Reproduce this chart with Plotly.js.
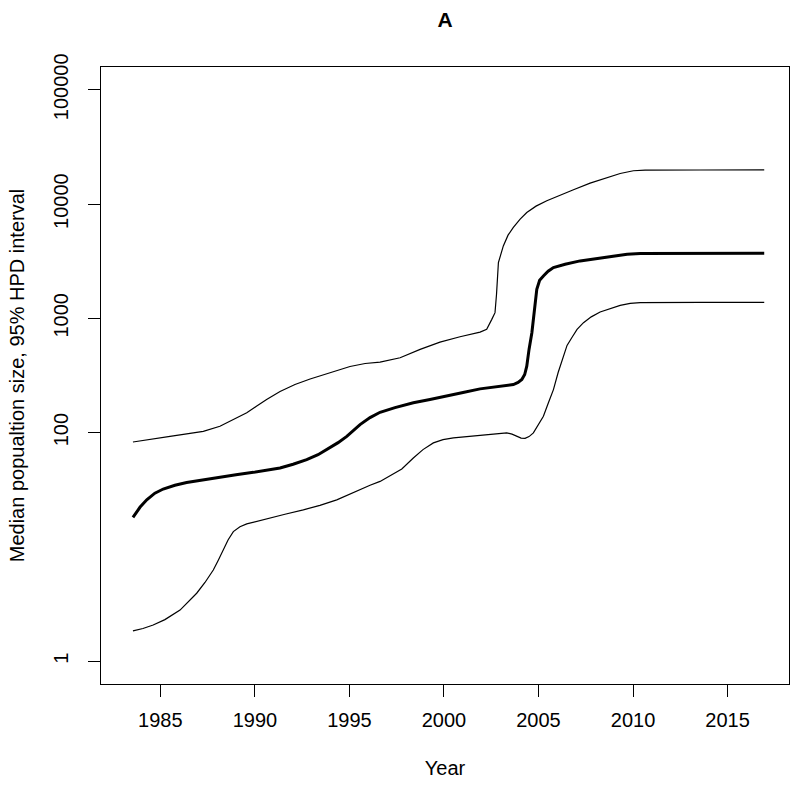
<!DOCTYPE html>
<html>
<head>
<meta charset="utf-8">
<script src="https://cdn.plot.ly/plotly-3.0.1.min.js"></script>
<style>
  html, body { margin: 0; padding: 0; background: #ffffff; }
  #chart { width: 800px; height: 786px; }
</style>
</head>
<body>
<div id="chart"></div>
<script>
// Values (year, population size)
const upperYears = [1983.55, 1984.45, 1985.51, 1986.57, 1987.27, 1988.15, 1988.84, 1989.57, 1990.06, 1990.62,
  1991.33, 1992.12, 1992.92, 1993.97, 1995.03, 1995.83, 1996.62, 1997.68, 1998.74, 1999.79,
  2000.85, 2001.91, 2002.26, 2002.53, 2002.70, 2002.78, 2002.88, 2003.14, 2003.39, 2003.67,
  2004.03, 2004.38, 2004.87, 2005.44, 2006.14, 2006.85, 2007.73, 2008.61, 2009.32, 2010.02,
  2010.64, 2013.55, 2016.94];
const upperValues = [82.8, 87.7, 92.8, 98.4, 102.6, 113.6, 130, 149, 169, 195,
  229, 264, 295, 336, 379, 403, 414, 452, 535, 620,
  691, 758, 801, 980, 1122, 1625, 3080, 4307, 5350, 6250,
  7380, 8450, 9600, 10690, 11990, 13340, 15280, 17140, 18530, 19590,
  19850, 19880, 19900];

const medianYears = [1983.55, 1983.92, 1984.28, 1984.71, 1985.15, 1985.77, 1986.39, 1987.10, 1988.15, 1989.00,
  1989.92, 1990.59, 1991.33, 1992.02, 1992.74, 1993.34, 1993.97, 1994.40, 1994.86, 1995.19,
  1995.56, 1996.09, 1996.62, 1997.41, 1998.38, 1999.26, 2000.15, 2001.01, 2001.91, 2002.81,
  2003.67, 2003.92, 2004.12, 2004.27, 2004.38, 2004.50, 2004.65, 2004.91, 2005.06, 2005.26,
  2005.51, 2005.79, 2006.41, 2007.20, 2008.10, 2008.96, 2009.69, 2010.38, 2013.55, 2016.94];
const medianValues = [18.1, 22.2, 25.8, 29.5, 32.1, 34.6, 36.6, 38.3, 40.9, 42.8,
  44.9, 46.9, 49.0, 52.9, 58.0, 64.1, 73.4, 81.7, 92.8, 104.2,
  117.5, 135.5, 150.7, 165.7, 182.4, 194.6, 208, 224.4, 241.6, 253.4,
  263.7, 274.6, 291.5, 322.7, 381.6, 535, 749, 1796, 2154, 2350,
  2585, 2785, 2978, 3184, 3358, 3518, 3641, 3696, 3718, 3718];

const lowerYears = [1983.55, 1984.08, 1984.62, 1985.24, 1986.04, 1986.46, 1986.92, 1987.36, 1987.80, 1988.07,
  1988.33, 1988.58, 1988.86, 1989.21, 1989.57, 1990.16, 1990.80, 1991.59, 1992.56, 1993.44,
  1994.33, 1994.93, 1995.56, 1996.09, 1996.62, 1997.15, 1997.77, 1998.38, 1998.89, 1999.44,
  1999.95, 2000.50, 2001.17, 2001.91, 2002.60, 2003.32, 2003.60, 2003.85, 2004.08, 2004.29,
  2004.50, 2004.73, 2004.98, 2005.26, 2005.51, 2005.79, 2006.04, 2006.32, 2006.51, 2006.76,
  2007.04, 2007.38, 2007.79, 2008.26, 2008.79, 2009.32, 2009.85, 2010.38, 2013.55, 2016.94];
const lowerValues = [1.84, 1.93, 2.07, 2.31, 2.80, 3.26, 3.93, 4.88, 6.28, 7.69,
  9.41, 11.5, 13.6, 15.0, 15.9, 16.9, 17.9, 19.3, 21.1, 23.1,
  25.8, 28.6, 32.1, 34.6, 37.4, 42.0, 48.0, 60.0, 71.0, 81.3,
  86.8, 89.9, 92.3, 94.1, 97.0, 99.4, 97.0, 92.8, 89.5, 89.1,
  92.3, 99.4, 115, 139, 180, 238, 336, 467, 580, 677,
  801, 917, 1031, 1136, 1224, 1301, 1355, 1374, 1381, 1381];

const xTicks = [1985, 1990, 1995, 2000, 2005, 2010, 2015];
const yTicks = [1, 100, 1000, 10000, 100000];
const yTickLabels = ['1', '100', '1000', '10000', '100000'];

const FONT = { family: 'Liberation Sans, Arial, Helvetica, sans-serif', color: '#000000', size: 20 };

const traces = [
  { x: upperYears, y: upperValues, mode: 'lines', name: 'upper 95% HPD',
    line: { color: '#000000', width: 1.2 } },
  { x: medianYears, y: medianValues, mode: 'lines', name: 'median',
    line: { color: '#000000', width: 3 } },
  { x: lowerYears, y: lowerValues, mode: 'lines', name: 'lower 95% HPD',
    line: { color: '#000000', width: 1.2 } },
];

const axisCommon = {
  showgrid: false, zeroline: false,
  showline: true, mirror: true, linecolor: '#000000', linewidth: 1,
  ticks: 'outside', ticklen: 12, tickwidth: 1, tickcolor: '#000000',
  tickfont: FONT, automargin: false,
};

const layout = {
  width: 800, height: 786,
  paper_bgcolor: '#ffffff', plot_bgcolor: '#ffffff',
  font: FONT,
  showlegend: false,
  margin: { t: 67, r: 11, b: 102, l: 101 },
  title: { text: 'A', font: { family: FONT.family, size: 21, weight: 700, color: '#000000' },
    x: 0.5, xref: 'paper', y: 1 - 20 / 786, yref: 'container', yanchor: 'middle' },
  xaxis: Object.assign({}, axisCommon, {
    range: [1981.86, 2018.25],
    tickvals: xTicks, ticktext: xTicks.map(String),
    ticklabelstandoff: 6,
    title: { text: 'Year', font: FONT, standoff: 30 },
  }),
  yaxis: Object.assign({}, axisCommon, {
    type: 'log', range: [-0.2, 5.2],
    tickvals: yTicks, ticktext: yTickLabels, tickangle: -90,
    ticklabelstandoff: 12,
    title: { text: 'Median popualtion size, 95% HPD interval', font: FONT, standoff: 20 },
  }),
};

Plotly.newPlot('chart', traces, layout, { displayModeBar: false, staticPlot: true });
</script>
</body>
</html>
